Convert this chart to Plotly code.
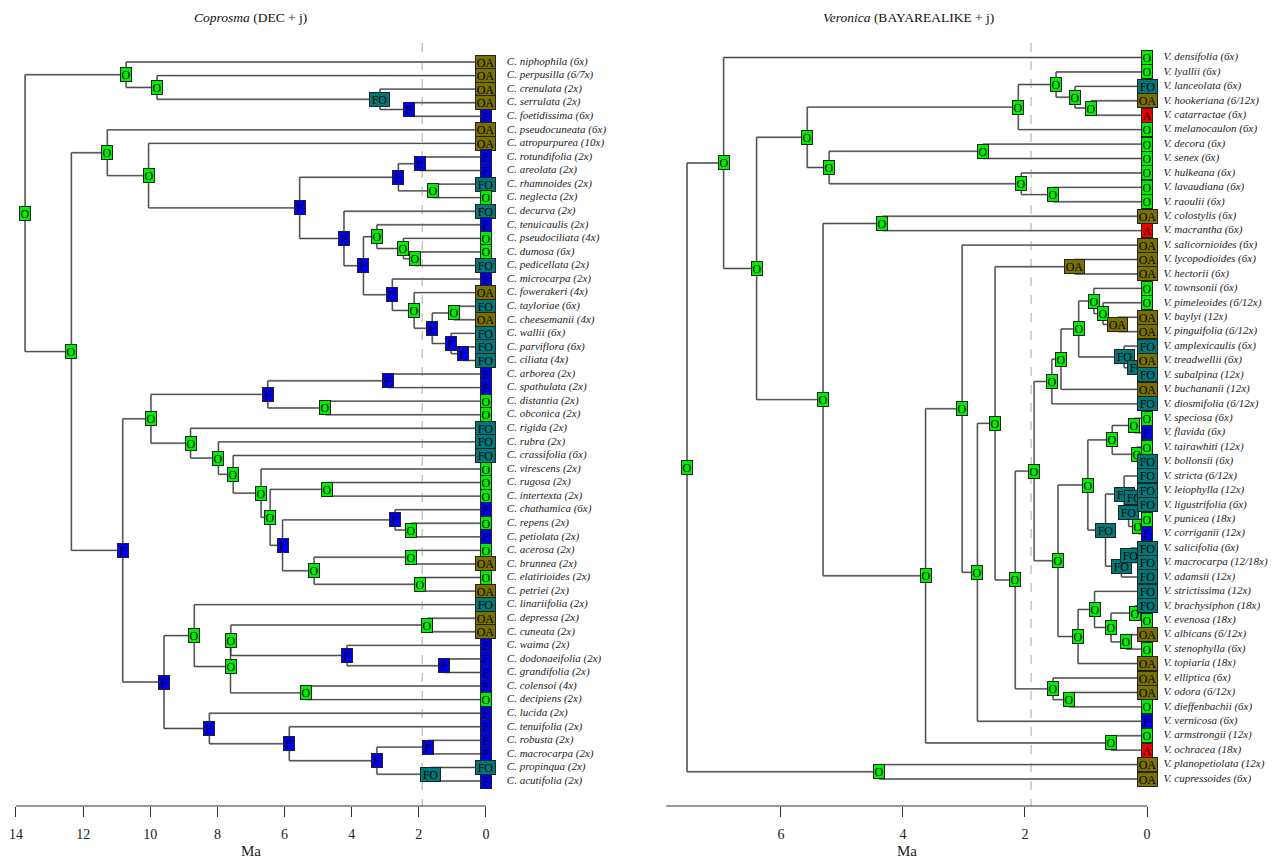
import plotly.graph_objects as go

# ---------------- Coprosma (DEC + j) ----------------
cop_tips = ["niphophila", "perpusilla", "crenulata", "serrulata", "foetidissima", "pseudocuneata",
            "atropurpurea", "rotundifolia", "areolata", "rhamnoides", "neglecta", "decurva",
            "tenuicaulis", "pseudociliata", "dumosa", "pedicellata", "microcarpa", "fowerakeri",
            "tayloriae", "cheesemanii", "wallii", "parviflora", "ciliata", "arborea", "spathulata",
            "distantia", "obconica", "rigida", "rubra", "crassifolia", "virescens", "rugosa",
            "intertexta", "chathamica", "repens", "petiolata", "acerosa", "brunnea", "elatirioides",
            "petriei", "linariifolia", "depressa", "cuneata", "waima", "dodonaeifolia", "grandifolia",
            "colensoi", "decipiens", "lucida", "tenuifolia", "robusta", "macrocarpa", "propinqua",
            "acutifolia"]
cop_ploidy = ["6x", "6/7x", "2x", "2x", "6x", "6x", "10x", "2x", "2x", "2x", "2x", "2x", "2x", "4x",
              "6x", "2x", "2x", "4x", "6x", "4x", "6x", "6x", "4x", "2x", "2x", "2x", "2x", "2x", "2x",
              "6x", "2x", "2x", "2x", "6x", "2x", "2x", "2x", "2x", "2x", "2x", "2x", "2x", "2x", "2x",
              "2x", "2x", "4x", "2x", "2x", "2x", "2x", "2x", "2x", "2x"]
cop_tip_state = ["OA", "OA", "OA", "OA", "F", "OA", "OA", "F", "F", "FO", "O", "FO", "F", "O", "O",
                 "FO", "F", "OA", "FO", "OA", "FO", "FO", "FO", "F", "F", "O", "O", "FO", "FO", "FO",
                 "O", "O", "O", "F", "O", "F", "O", "OA", "O", "OA", "FO", "OA", "OA", "F", "F", "F",
                 "F", "O", "F", "F", "F", "F", "FO", "F"]
cop_node_id = ["root", "A", "A1", "A2", "A3", "B", "C", "C1", "C2", "C3", "C5", "C6", "C4", "C7",
               "C8", "C10", "C11", "C9", "C12", "C13", "C14", "C15", "C16", "D", "E", "E1", "E3",
               "E4", "E2", "E5", "E6", "E7", "E8", "E9", "E10", "E11", "E13", "E12", "E14", "E15",
               "F", "G", "G1", "G2", "G4", "G5", "G6", "G3", "H", "H1", "H2", "H3", "H4"]
cop_node_age = [13.73, 10.72, 9.80, 3.16, 2.30, 12.35, 11.28, 10.05, 5.55, 2.61, 1.97, 1.59, 4.23,
                3.65, 3.25, 2.46, 2.12, 2.79, 2.14, 1.60, 0.96, 1.04, 0.69, 10.82, 9.98, 6.50, 2.92,
                4.79, 8.80, 7.97, 7.53, 6.70, 6.43, 4.73, 6.06, 2.71, 2.24, 5.12, 2.24, 1.97, 9.59,
                8.69, 7.61, 7.60, 1.75, 4.14, 1.26, 5.37, 8.24, 5.86, 3.25, 1.72, 1.65]
cop_node_state = ["O", "O", "O", "FO", "F", "O", "O", "O", "F", "F", "F", "O", "F", "F", "O", "O",
                  "O", "F", "O", "F", "O", "F", "F", "F", "O", "F", "F", "O", "O", "O", "O", "O",
                  "O", "O", "F", "F", "O", "O", "O", "O", "F", "O", "O", "O", "O", "F", "F", "O",
                  "F", "F", "F", "F", "FO"]
cop_kid1 = ["A", 0, 1, 2, 3, "C", 5, 6, "C3", "C5", 7, 9, 11, "C8", 12, 13, 14, 16, 17, "C14", 18,
            20, 21, "E", "E1", "E3", 23, 25, 27, 28, 29, 30, "E9", 31, "E11", 33, 34, "E14", 36, 38,
            "G", 40, "G2", "G4", 41, 43, 44, 46, 48, 49, "H3", 50, 52]
cop_kid2 = ["B", "A1", "A2", "A3", 4, "D", "C1", "C2", "C4", "C6", 8, 10, "C7", "C9", "C10", "C11",
            15, "C12", "C13", "C15", 19, "C16", 22, "F", "E2", "E4", 24, 26, "E5", "E6", "E7", "E8",
            "E10", 32, "E12", "E13", 35, "E15", 37, 39, "H", "G1", "G3", "G5", 42, "G6", 45, 47,
            "H1", "H2", "H4", 51, 53]

# ---------------- Veronica (BAYAREALIKE + j) ----------------
ver_tips = ["densifolia", "lyallii", "lanceolata", "hookeriana", "catarractae", "melanocaulon",
            "decora", "senex", "hulkeana", "lavaudiana", "raoulii", "colostylis", "macrantha",
            "salicornioides", "lycopodioides", "hectorii", "townsonii", "pimeleoides", "baylyi",
            "pinguifolia", "amplexicaulis", "treadwellii", "subalpina", "buchananii", "diosmifolia",
            "speciosa", "flavida", "tairawhiti", "bollonsii", "stricta", "leiophylla",
            "ligustrifolia", "punicea", "corriganii", "salicifolia", "macrocarpa", "adamsii",
            "strictissima", "brachysiphon", "evenosa", "albicans", "stenophylla", "topiaria",
            "elliptica", "odora", "dieffenbachii", "vernicosa", "armstrongii", "ochracea",
            "planopetiolata", "cupressoides"]
ver_ploidy = ["6x", "6x", "6x", "6/12x", "6x", "6x", "6x", "6x", "6x", "6x", "6x", "6x", "6x", "6x",
              "6x", "6x", "6x", "6/12x", "12x", "6/12x", "6x", "6x", "12x", "12x", "6/12x", "6x",
              "6x", "12x", "6x", "6/12x", "12x", "6x", "18x", "12x", "6x", "12/18x", "12x", "12x",
              "18x", "18x", "6/12x", "6x", "18x", "6x", "6/12x", "6x", "6x", "12x", "18x", "12x",
              "6x"]
ver_tip_state = ["O", "O", "FO", "OA", "A", "O", "O", "O", "O", "O", "O", "OA", "A", "OA", "OA",
                 "OA", "O", "O", "OA", "OA", "FO", "OA", "FO", "OA", "FO", "O", "F", "O", "FO", "FO",
                 "FO", "FO", "O", "F", "FO", "FO", "FO", "FO", "FO", "O", "OA", "O", "OA", "OA",
                 "OA", "O", "F", "O", "A", "OA", "OA"]
ver_node_id = ["root", "Z", "A", "B", "C", "C1", "C3", "C4", "C5", "C2", "C6", "C7", "C8", "D",
               "D1", "E", "Y", "F", "G", "H", "H1", "I", "X", "X1", "J", "K", "K1", "K2", "K3",
               "K5", "K6", "K4", "K7", "L", "M", "M1", "M3", "M4", "M2", "M5", "M7", "M8", "M9",
               "M6", "M10", "N", "N1", "N2", "N3", "N4"]
ver_node_age = [7.54, 4.39, 6.94, 6.40, 5.57, 2.11, 1.49, 1.18, 0.92, 5.21, 2.69, 2.06, 1.54, 5.31,
                4.34, 3.63, 0.59, 3.03, 2.78, 2.49, 1.19, 2.16, 1.54, 1.28, 1.85, 1.56, 1.41, 1.12,
                0.87, 0.72, 0.48, 0.375, 0.15, 1.46, 0.97, 0.57, 0.21, 0.17, 0.68, 0.375, 0.30,
                0.20, 0.15, 0.42, 0.27, 1.13, 0.86, 0.59, 0.19, 0.34]
ver_node_state = ["O", "O", "O", "O", "O", "O", "O", "O", "O", "O", "O", "O", "O", "O", "O", "O",
                  "O", "O", "O", "O", "OA", "O", "O", "O", "O", "O", "O", "O", "O", "O", "OA",
                  "FO", "FO", "O", "O", "O", "O", "O", "FO", "FO", "FO", "FO", "O", "FO", "FO",
                  "O", "O", "O", "O", "O"]
ver_kid1 = ["A", 49, 0, "C", "C1", "C3", 1, 2, 3, "C6", 6, 8, 9, "D1", 11, "F", 47, 13, "H", "H1",
            14, "J", 43, 44, "K", "K1", "K2", "K3", 16, 17, 18, 20, 21, "M", "M1", "M3", 25, 27,
            "M5", 29, "M8", 30, 32, "M10", 34, "N1", 37, "N3", 38, 40]
ver_kid2 = ["Z", 50, "B", "D", "C2", 5, "C4", "C5", 4, "C7", 7, "C8", 10, "E", 12, "Y", 48, "G",
            46, "I", 15, "X", "X1", 45, "L", 24, 23, "K4", "K5", "K6", 19, "K7", 22, "N", "M2",
            "M4", 26, 28, "M6", "M7", "M9", 31, 33, 36, 35, 42, "N2", "N4", 39, 41]

cop_ticks = [14, 12, 10, 8, 6, 4, 2, 0]
ver_ticks = [6, 4, 2, 0]

state_color = {"O": "#00EE00", "F": "#0000EE", "FO": "#007878", "OA": "#7A7000", "A": "#EE0000"}

W, H = 1269, 855  # page adds an 8px body margin
fig = go.Figure()
annotations = []
shapes = []


def layout_tree(node_id, node_age, kid1, kid2):
    kids = {n: (a, b) for n, a, b in zip(node_id, kid1, kid2)}
    ages = dict(zip(node_id, node_age))
    ypos = {}

    def gety(ref):
        if isinstance(ref, int):
            return ref + 1
        if ref not in ypos:
            a, b = kids[ref]
            ypos[ref] = (gety(a) + gety(b)) / 2.0
        return ypos[ref]

    def getx(ref):
        return 0.0 if isinstance(ref, int) else ages[ref]

    for n in node_id:
        gety(n)
    xs, ys = [], []
    for n in node_id:
        a, b = kids[n]
        xn = ages[n]
        xs += [xn, xn, None]
        ys += [gety(a), gety(b), None]
        for c in (a, b):
            xs += [xn, getx(c), None]
            ys += [gety(c), gety(c), None]
    return ypos, xs, ys


def add_tree(tips, ploidy, tip_state, node_id, node_age, node_state, kid1, kid2,
             xa, ya, genus, label_dx):
    ypos, xs, ys = layout_tree(node_id, node_age, kid1, kid2)
    fig.add_trace(go.Scatter(x=xs, y=ys, mode="lines", xaxis=xa, yaxis=ya,
                             line=dict(color="#a0a0a0", width=1.9), hoverinfo="skip"))
    fig.add_trace(go.Scatter(x=xs, y=ys, mode="lines", xaxis=xa, yaxis=ya,
                             line=dict(color="#222222", width=0.7), hoverinfo="skip"))
    fig.add_trace(go.Scatter(
        x=[label_dx] * len(tips), y=list(range(1, len(tips) + 1)), mode="text",
        text=["<i>%s. %s (%s)</i>" % (genus, t, p) for t, p in zip(tips, ploidy)],
        textposition="middle right", xaxis=xa, yaxis=ya,
        textfont=dict(family="Liberation Serif", size=11, color="#222222"), hoverinfo="skip"))
    xr = "x" if xa == "x" else "x2"
    yr = "y" if ya == "y" else "y2"
    items = [(node_age[i], ypos[n], node_state[i]) for i, n in enumerate(node_id)]
    items += [(0.0, i + 1, s) for i, s in enumerate(tip_state)]
    for x, y, s in items:
        annotations.append(dict(
            x=x, y=y, xref=xr, yref=yr, text=s, showarrow=False,
            xanchor="center", yanchor="middle",
            bgcolor=state_color[s], bordercolor="#222222", borderwidth=1, borderpad=0,
            width=10 if len(s) == 1 else 19, height=13,
            font=dict(family="Liberation Serif", size=12, color="#000000"),
            align="center", valign="middle"))


add_tree(cop_tips, cop_ploidy, cop_tip_state, cop_node_id, cop_node_age, cop_node_state,
         cop_kid1, cop_kid2, "x", "y", "C", -0.62)
add_tree(ver_tips, ver_ploidy, ver_tip_state, ver_node_id, ver_node_age, ver_node_state,
         ver_kid1, ver_kid2, "x2", "y2", "V", -0.27)

ybot = 1 - 798 / float(H)
ytop = 1 - 35 / float(H)
for xr, xmax in (("x", cop_ticks[0]), ("x2", 7.88)):
    shapes.append(dict(type="line", xref=xr, yref="paper", x0=xmax, x1=0, y0=ybot, y1=ybot,
                       line=dict(color="#333333", width=1)))
    shapes.append(dict(type="line", xref=xr, yref="paper", x0=1.9, x1=1.9, y0=ytop, y1=ybot,
                       line=dict(color="#aaaaaa", width=1, dash="dash"), layer="below"))

for xr, xc in (("x", 7.0), ("x2", 3.94)):
    annotations.append(dict(x=xc, y=1 - 843 / float(H), xref=xr, yref="paper", text="Ma",
                            showarrow=False, xanchor="center", yanchor="middle",
                            font=dict(family="Liberation Serif", size=15, color="#222")))
annotations.append(dict(x=242 / float(W), y=1 - 9 / float(H), xref="paper", yref="paper",
                        text="<i>Coprosma</i> (DEC + j)", showarrow=False,
                        xanchor="center", yanchor="middle",
                        font=dict(family="Liberation Serif", size=13.5, color="#111")))
annotations.append(dict(x=900 / float(W), y=1 - 9 / float(H), xref="paper", yref="paper",
                        text="<i>Veronica</i> (BAYAREALIKE + j)", showarrow=False,
                        xanchor="center", yanchor="middle",
                        font=dict(family="Liberation Serif", size=13.5, color="#111")))

axis_common = dict(showgrid=False, zeroline=False, showline=False, ticks="outside", ticklen=10,
                   tickwidth=1, tickcolor="#333333", ticklabelstandoff=5,
                   tickfont=dict(family="Liberation Serif", size=14, color="#222222"))
fig.update_layout(
    width=W, height=H, margin=dict(l=0, r=0, t=0, b=0),
    paper_bgcolor="white", plot_bgcolor="white", showlegend=False,
    xaxis=dict(domain=[0, 0.5], range=[14.238, -4.662], anchor="y",
               tickvals=cop_ticks, **axis_common),
    yaxis=dict(domain=[ybot, 1], range=[55.84, -2.981], visible=False, anchor="x"),
    xaxis2=dict(domain=[0.5, 1], range=[8.270, -2.131], anchor="y2",
                tickvals=ver_ticks, **axis_common),
    yaxis2=dict(domain=[ybot, 1], range=[52.87, -2.430], visible=False, anchor="x2"),
    annotations=annotations, shapes=shapes,
)
fig.write_html("out.html")
